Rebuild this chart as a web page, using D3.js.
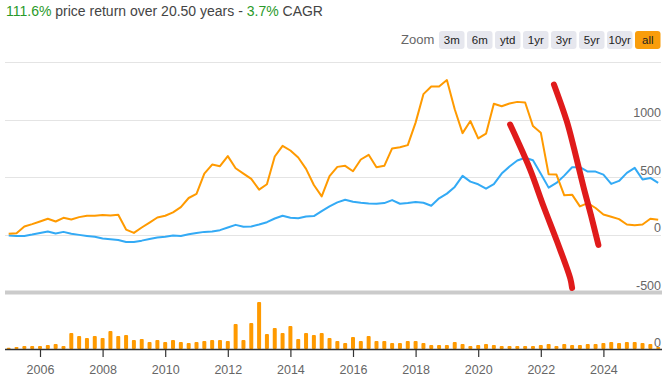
<!DOCTYPE html>
<html>
<head>
<meta charset="utf-8">
<script src="https://cdn.jsdelivr.net/npm/d3@7"></script>
<style>
  body { margin: 0; background: #fff; }
  svg { display: block; font-family: "Liberation Sans", Arial, sans-serif; }
</style>
</head>
<body>
<div id="chart"></div>
<script>
// quarterly points, first one at 2005.0
const startYear = 2005;
const stockReturn = [9, 15, 72, 93, 116, 140, 116, 148, 134, 154, 166, 166, 172, 169, 174, 46, 17, 64, 107, 151,
  166, 195, 241, 320, 355, 532, 610, 596, 683, 578, 532, 486, 392, 439, 680, 773, 732, 671, 573, 433,
  334, 510, 590, 599, 552, 654, 695, 587, 599, 750, 761, 779, 974, 1221, 1288, 1288, 1343, 1090, 883, 988,
  837, 878, 1138, 1116, 1140, 1154, 1149, 944, 887, 526, 523, 343, 349, 247, 276, 233, 177, 157, 137, 90,
  84, 90, 140, 131];
const benchReturn = [-6, -9, -9, 3, 17, 29, 12, 26, 9, 0, -9, -17, -32, -38, -44, -61, -61, -50, -35, -23,
  -16, -6, -9, 6, 17, 26, 29, 41, 64, 87, 70, 73, 90, 110, 142, 166, 148, 145, 160, 163,
  206, 247, 282, 305, 288, 279, 273, 270, 276, 302, 270, 276, 285, 279, 253, 317, 358, 416, 512, 462,
  439, 401, 440, 532, 593, 645, 669, 648, 530, 410, 451, 514, 587, 587, 549, 549, 523, 442, 468, 538,
  581, 480, 494, 451];
const volume = [4, 6, 9, 9, 9, 12, 15, 9, 48, 39, 33, 39, 33, 54, 39, 42, 27, 30, 21, 27,
  21, 27, 21, 18, 21, 24, 27, 27, 24, 75, 27, 78, 141, 45, 63, 48, 69, 30, 48, 42,
  48, 33, 24, 18, 36, 24, 39, 24, 24, 18, 18, 24, 24, 18, 12, 12, 12, 21, 15, 9,
  12, 15, 12, 9, 9, 9, 9, 9, 12, 15, 9, 15, 12, 12, 15, 15, 18, 21, 18, 21,
  21, 18, 15, 6];
const yearTicks = [2006, 2008, 2010, 2012, 2014, 2016, 2018, 2020, 2022, 2024];
const valueTicks = [-500, 0, 500, 1000];
const gridValues = [-500, 0, 500, 1000, 1500];
const zoomButtons = ["3m", "6m", "ytd", "1yr", "3yr", "5yr", "10yr", "all"];
// hand-drawn red marks, as [year, value]
const markA = [[2021.02, 957], [2021.24, 827], [2021.66, 566], [2022.09, 246], [2022.52, -58], [2022.94, -377], [2023.0, -461]];
const markB = [[2022.42, 1305], [2022.83, 986], [2023.07, 740], [2023.36, 420], [2023.6, 174], [2023.84, -87]];

const W = 668, H = 382;
const orange = "#ff9a00", blue = "#33aaf5";

const svg = d3.select("#chart").append("svg").attr("width", W).attr("height", H);

// header
const title = svg.append("text").attr("x", 6).attr("y", 16).attr("font-size", 14).attr("fill", "#444");
title.append("tspan").attr("fill", "#2a9a2a").text("111.6%");
title.append("tspan").text(" price return over 20.50 years - ");
title.append("tspan").attr("fill", "#2a9a2a").text("3.7%");
title.append("tspan").text(" CAGR");

svg.append("text").attr("x", 401).attr("y", 44).attr("font-size", 13).attr("fill", "#666").text("Zoom");
const btn = svg.selectAll(".btn").data(zoomButtons).join("g")
  .attr("transform", (d, i) => `translate(${439 + i * 28},31)`);
btn.append("rect").attr("width", 25.5).attr("height", 18).attr("rx", 3)
  .attr("fill", d => d === "all" ? "#f99d0b" : "#e6e7ee");
btn.append("text").attr("x", 12.75).attr("y", 13).attr("text-anchor", "middle")
  .attr("font-size", 11.5).attr("fill", "#222").text(d => d);

// scales
const x = d3.scaleLinear().domain([2005, 2026]).range([8.7, 8.7 + 31.3 * 21]);
const y = d3.scaleLinear().domain([-500, 1500]).range([292.5, 62]);
const yVol = d3.scaleLinear().domain([0, 160]).range([349, 295.7]);
const t = i => startYear + i * 0.25;

// grid + right labels
svg.append("g").selectAll("line").data(gridValues).join("line")
  .attr("x1", 5).attr("x2", 661)
  .attr("y1", d => Math.round(y(d)) + 0.5).attr("y2", d => Math.round(y(d)) + 0.5)
  .attr("stroke", "#e4e4e4");
svg.append("g").selectAll("text").data(valueTicks).join("text")
  .attr("x", 661).attr("y", d => y(d) - 2.5).attr("text-anchor", "end")
  .attr("font-size", 12.5).attr("fill", "#666").text(d => d);

// lines
const line = d3.line().x((d, i) => x(t(i))).y(d => y(d));
svg.append("path").datum(benchReturn).attr("d", line)
  .attr("fill", "none").attr("stroke", blue).attr("stroke-width", 2).attr("stroke-linejoin", "round");
svg.append("path").datum(stockReturn).attr("d", line)
  .attr("fill", "none").attr("stroke", orange).attr("stroke-width", 2).attr("stroke-linejoin", "round");

// separator bar
svg.append("rect").attr("x", 5).attr("y", 290.5).attr("width", 657).attr("height", 4).attr("fill", "#cbcbcb");

// volume
svg.append("g").selectAll("rect").data(volume).join("rect")
  .attr("x", (d, i) => x(t(i)) - 2).attr("width", 4)
  .attr("y", d => yVol(d)).attr("height", d => yVol(0) - yVol(d))
  .attr("rx", 1).attr("fill", orange);
svg.append("text").attr("x", 661).attr("y", 346.5).attr("text-anchor", "end")
  .attr("font-size", 12.5).attr("fill", "#666").text("0");

const xAxis = svg.append("g").attr("transform", "translate(0,349)")
  .call(d3.axisBottom(x).tickValues(yearTicks).tickFormat(d3.format("d")).tickSize(8).tickPadding(8));
xAxis.select(".domain").attr("d", "M5,0.5H662").attr("stroke", "#333").attr("stroke-width", 1.5);
xAxis.selectAll(".tick line").attr("stroke", "#333").attr("stroke-width", 1.2);
xAxis.selectAll(".tick text").attr("font-size", 12.5).attr("fill", "#666").attr("font-family", "Liberation Sans, Arial, sans-serif");

// red annotation strokes
const mark = d3.line().x(d => x(d[0])).y(d => y(d[1])).curve(d3.curveCatmullRom);
[markA, markB].forEach(m => {
  svg.append("path").datum(m).attr("d", mark)
    .attr("fill", "none").attr("stroke", "#e01b1b").attr("stroke-width", 6)
    .attr("stroke-linecap", "round");
});
</script>
</body>
</html>
